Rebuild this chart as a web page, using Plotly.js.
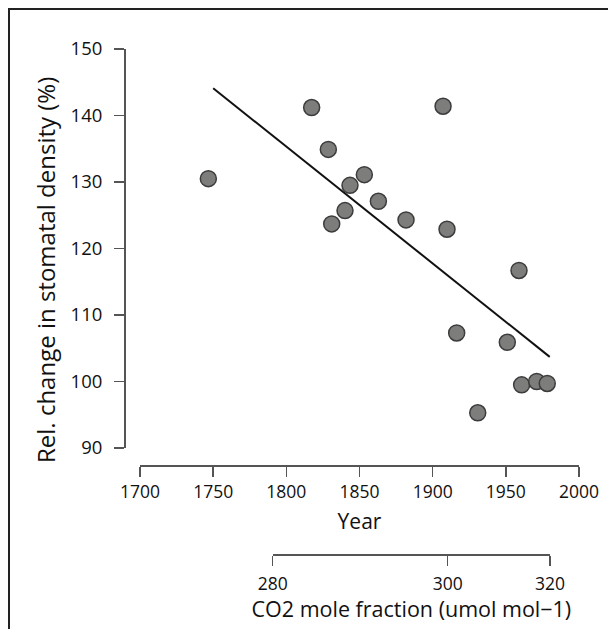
<!DOCTYPE html>
<html>
<head>
<meta charset="utf-8">
<script src="https://cdn.plot.ly/plotly-3.0.1.min.js"></script>
<style>
  html, body { margin: 0; padding: 0; background: #fff; }
  #chart { width: 608px; height: 629px; }
</style>
</head>
<body>
<div id="chart"></div>
<script>
// ---- data ----
var years = [1746.7, 1817.3, 1828.7, 1831.0, 1840.1, 1843.5, 1853.3, 1862.9, 1881.8,
             1907.1, 1909.8, 1916.4, 1930.8, 1951.0, 1959.0, 1960.8, 1971.1, 1978.3];
var density = [130.5, 141.2, 134.9, 123.7, 125.7, 129.5, 131.1, 127.1, 124.3,
               141.4, 122.9, 107.3, 95.3, 105.9, 116.7, 99.5, 100.0, 99.7];
var fitYears = [1750, 1980];
var fitDensity = [144.1, 103.7];
var yearTicks = [1700, 1750, 1800, 1850, 1900, 1950, 2000];
var densityTicks = [90, 100, 110, 120, 130, 140, 150];
var co2TickYears = [1790.7, 1910.3, 1980.2];
var co2TickLabels = ['280', '300', '320'];

// ---- layout geometry (pixels) ----
var W = 608, H = 629;
var L = 124, R = 579, T = 49, B = 554;
var xLeft = 140, yBottom = 448, xAxisY = 465;
var pw = R - L, ph = B - T;
var xRange = [1700, 2000];
var pxPerYear = (R - xLeft) / (xRange[1] - xRange[0]);
function yearToPx(y) { return xLeft + (y - xRange[0]) * pxPerYear; }
function px2x(p) { return (p - L) / pw; }
function px2y(p) { return (B - p) / ph; }

var co2Range = [Math.min.apply(null, co2TickYears), Math.max.apply(null, co2TickYears)];

var font = 'Open Sans, Noto Sans, sans-serif';
var txt = '#111111';
var axc = '#555555';

var traces = [
  {
    x: co2Range, y: [null, null], xaxis: 'x2', yaxis: 'y', type: 'scatter',
    mode: 'markers', hoverinfo: 'skip', showlegend: false
  },
  {
    x: fitYears, y: fitDensity, type: 'scatter', mode: 'lines',
    line: { color: '#111111', width: 2 }, hoverinfo: 'skip', showlegend: false
  },
  {
    x: years, y: density, type: 'scatter', mode: 'markers',
    marker: { size: 16, color: '#7d7d7b', line: { color: '#3c3c3c', width: 1.5 } },
    showlegend: false
  }
];

var layout = {
  width: W, height: H,
  margin: { l: L, r: W - R, t: T, b: H - B, pad: 0 },
  paper_bgcolor: '#ffffff', plot_bgcolor: 'rgba(0,0,0,0)',
  font: { family: font, color: txt, size: 18 },
  showlegend: false,
  xaxis: {
    domain: [px2x(xLeft), 1],
    anchor: 'free', position: px2y(xAxisY),
    range: xRange, tickvals: yearTicks, ticktext: yearTicks.map(String),
    showgrid: false, zeroline: false,
    showline: true, linecolor: axc, linewidth: 1.5,
    ticks: 'outside', ticklen: 10, tickwidth: 1.5, tickcolor: axc,
    tickfont: { family: font, size: 17.5, color: txt },
    title: { text: 'Year', font: { family: font, size: 21, color: txt }, standoff: 13 }
  },
  xaxis2: {
    domain: [px2x(yearToPx(co2Range[0])), px2x(yearToPx(co2Range[1]))],
    anchor: 'free', position: 0,
    range: co2Range, tickvals: co2TickYears, ticktext: co2TickLabels,
    showgrid: false, zeroline: false,
    showline: true, linecolor: axc, linewidth: 1.5,
    ticks: 'outside', ticklen: 10, tickwidth: 1.5, tickcolor: axc,
    tickfont: { family: font, size: 17.5, color: txt },
    ticklabelstandoff: 3,
    title: { text: 'CO2 mole fraction (umol mol\u22121)', font: { family: font, size: 21.5, color: txt }, standoff: 4 }
  },
  yaxis: {
    domain: [px2y(yBottom), 1],
    anchor: 'free', position: 0,
    range: [90, 150], tickvals: densityTicks, ticktext: densityTicks.map(String),
    showgrid: false, zeroline: false,
    showline: true, linecolor: axc, linewidth: 1.5,
    ticks: 'outside', ticklen: 10, tickwidth: 1.5, tickcolor: axc,
    ticklabelstandoff: 8,
    tickfont: { family: font, size: 18.5, color: txt }
  },
  annotations: [
    {
      xref: 'paper', yref: 'paper', x: px2x(45), y: px2y(270),
      text: 'Rel. change in stomatal density (%)', showarrow: false, textangle: -90,
      xanchor: 'center', yanchor: 'middle',
      font: { family: font, size: 24, color: txt }
    }
  ],
  shapes: [
    { type: 'line', xref: 'paper', yref: 'paper',
      x0: px2x(8), x1: px2x(W), y0: px2y(9), y1: px2y(9),
      line: { color: '#222222', width: 2 } },
    { type: 'line', xref: 'paper', yref: 'paper',
      x0: px2x(9), x1: px2x(9), y0: px2y(8), y1: px2y(H),
      line: { color: '#222222', width: 2 } }
  ]
};

Plotly.newPlot('chart', traces, layout, { displayModeBar: false, staticPlot: true });
</script>
</body>
</html>
